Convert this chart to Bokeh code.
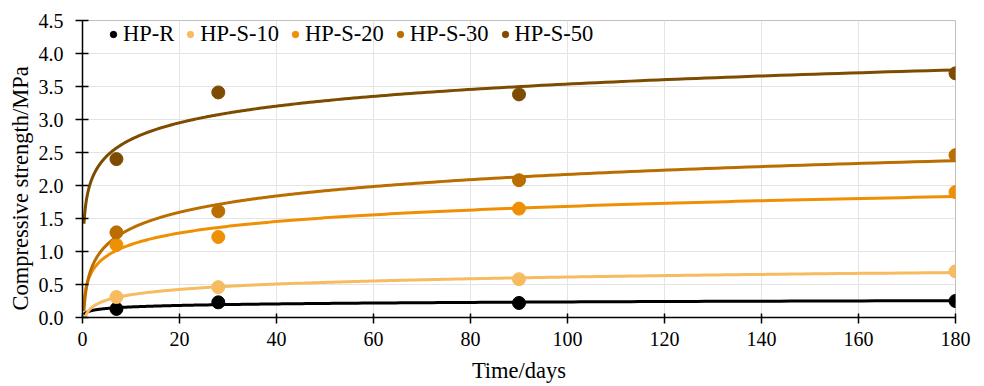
import numpy as np
from bokeh.plotting import figure
from bokeh.models import Range1d, SingleIntervalTicker, NumeralTickFormatter, Legend, LegendItem, Title
from bokeh.embed import file_html
from bokeh.resources import INLINE

days = [7, 28, 90, 180]
series_names = ["HP-R", "HP-S-10", "HP-S-20", "HP-S-30", "HP-S-50"]
hp_r = [0.13, 0.23, 0.22, 0.25]
hp_s_10 = [0.31, 0.46, 0.58, 0.70]
hp_s_20 = [1.10, 1.22, 1.65, 1.90]
hp_s_30 = [1.29, 1.61, 2.08, 2.46]
hp_s_50 = [2.40, 3.41, 3.38, 3.70]
colors = ["#000000", "#F7BB60", "#EF9004", "#BA6E00", "#7D4C00"]

FONT = "Liberation Serif"

p = figure(width=984, height=386, output_backend="svg", toolbar_location=None,
           x_range=Range1d(0, 180), y_range=Range1d(0, 4.5),
           min_border_left=82, min_border_right=29, min_border_top=20, min_border_bottom=69)

p.outline_line_color = "#BFBFBF"
p.outline_line_width = 1
p.xgrid.grid_line_color = "#E4E4E4"
p.ygrid.grid_line_color = "#E4E4E4"
p.xgrid.grid_line_width = 1
p.ygrid.grid_line_width = 1

p.xaxis.ticker = SingleIntervalTicker(interval=20)
p.yaxis.ticker = SingleIntervalTicker(interval=0.5)
p.yaxis.formatter = NumeralTickFormatter(format="0.0")
for ax in (p.xaxis, p.yaxis):
    ax.axis_line_color = "black"
    ax.axis_line_width = 1.5
    ax.major_tick_line_color = "black"
    ax.major_tick_line_width = 1.5
    ax.minor_tick_line_color = None
    ax.major_label_text_font = FONT
    ax.major_label_text_font_size = "20px"
    ax.major_label_text_color = "black"
    ax.axis_label_text_font = FONT
    ax.axis_label_text_font_size = "22.5px"
    ax.axis_label_text_font_style = "normal"
    ax.axis_label_text_color = "black"
p.xaxis.major_tick_in = 4
p.xaxis.major_tick_out = 6
p.yaxis.major_tick_in = 6
p.yaxis.major_tick_out = 7
p.xaxis.axis_label = "Time/days"
p.xaxis.major_label_standoff = 8
p.yaxis.major_label_standoff = 12
p.xaxis.axis_label_standoff = 9

# y-axis title, starting just above the frame bottom as in the reference
ytitle = Title(text="Compressive strength/MPa", align="left", offset=7, standoff=5,
               text_font=FONT, text_font_size="22.5px", text_font_style="normal",
               text_color="black")
p.add_layout(ytitle, "left")

all_series = [hp_r, hp_s_10, hp_s_20, hp_s_30, hp_s_50]
xs = np.array(days, dtype=float)
xfit = np.geomspace(0.3, 180, 400)
items = []
for name, vals, c in zip(series_names, all_series, colors):
    a, b = np.polyfit(np.log(xs), np.array(vals), 1)
    p.line(xfit, a * np.log(xfit) + b, line_color=c, line_width=3)
for name, vals, c in zip(series_names, all_series, colors):
    r = p.scatter(days, vals, size=13, fill_color=c, line_color=c)
    items.append(LegendItem(label=name, renderers=[r]))

legend = Legend(items=items, orientation="horizontal", location=(23, 270),
                label_text_font=FONT, label_text_font_size="22.5px",
                label_text_color="black", background_fill_alpha=0,
                border_line_color=None, glyph_width=16, glyph_height=16,
                label_standoff=2, spacing=8, padding=5, margin=0)
p.add_layout(legend)

open("out.html", "w").write(file_html(p, INLINE))
